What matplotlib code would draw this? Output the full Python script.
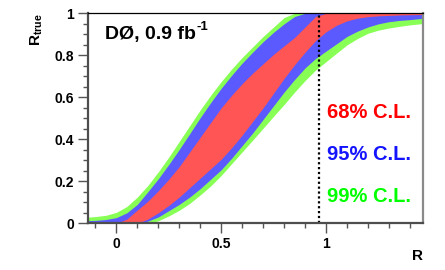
import matplotlib
matplotlib.use("Agg")
import matplotlib.pyplot as plt
from matplotlib.ticker import MultipleLocator, FixedLocator, FixedFormatter

plt.rcParams['font.family'] = ['Liberation Sans', 'DejaVu Sans']
plt.rcParams['mathtext.fontset'] = 'custom'
plt.rcParams['mathtext.rm'] = 'Liberation Sans'
plt.rcParams['mathtext.bf'] = 'Liberation Sans:bold'

# ---- data ----
R = [-0.15, -0.10, -0.05, 0.00, 0.05, 0.10, 0.15, 0.20, 0.25, 0.30, 0.35, 0.40,
     0.45, 0.50, 0.55, 0.60, 0.65, 0.70, 0.75, 0.80, 0.85, 0.90, 0.95, 1.00,
     1.05, 1.10, 1.15, 1.20, 1.25, 1.30, 1.35, 1.40, 1.45, 1.50]

green_upper = [0.028, 0.032, 0.038, 0.052, 0.080, 0.125, 0.180, 0.245, 0.315, 0.390, 0.465, 0.540,
               0.610, 0.675, 0.735, 0.790, 0.840, 0.890, 0.935, 0.980, 1.0, 1.0, 1.0, 1.0,
               1.0, 1.0, 1.0, 1.0, 1.0, 1.0, 1.0, 1.0, 1.0, 1.0]
blue_upper = [0.012, 0.014, 0.018, 0.027, 0.050, 0.090, 0.150, 0.212, 0.280, 0.352, 0.427, 0.503,
              0.575, 0.643, 0.705, 0.763, 0.815, 0.865, 0.910, 0.950, 0.985, 1.0, 1.0, 1.0,
              1.0, 1.0, 1.0, 1.0, 1.0, 1.0, 1.0, 1.0, 1.0, 1.0]
red_upper = [0.0, 0.0, 0.0, 0.0, 0.020, 0.063, 0.105, 0.155, 0.210, 0.270, 0.340, 0.410,
             0.480, 0.550, 0.610, 0.665, 0.715, 0.760, 0.805, 0.845, 0.885, 0.935, 0.985, 1.0,
             1.0, 1.0, 1.0, 1.0, 1.0, 1.0, 1.0, 1.0, 1.0, 1.0]
red_lower = [0.0, 0.0, 0.0, 0.0, 0.0, 0.0, 0.020, 0.050, 0.085, 0.125, 0.170, 0.215,
             0.260, 0.305, 0.360, 0.420, 0.485, 0.550, 0.620, 0.690, 0.755, 0.815, 0.870, 0.912,
             0.943, 0.964, 0.977, 0.984, 0.988, 0.990, 0.992, 0.993, 0.994, 0.995]
blue_lower = [0.0, 0.0, 0.0, 0.0, 0.0, 0.0, 0.010, 0.030, 0.060, 0.090, 0.125, 0.165,
              0.210, 0.255, 0.310, 0.370, 0.430, 0.495, 0.560, 0.625, 0.685, 0.740, 0.785, 0.820,
              0.855, 0.890, 0.915, 0.935, 0.950, 0.960, 0.966, 0.970, 0.975, 0.977]
green_lower = [0.0, 0.0, 0.0, 0.0, 0.0, 0.0, 0.0, 0.012, 0.035, 0.062, 0.095, 0.135,
               0.178, 0.228, 0.284, 0.340, 0.396, 0.453, 0.510, 0.566, 0.625, 0.680, 0.730, 0.770,
               0.810, 0.850, 0.880, 0.905, 0.920, 0.930, 0.938, 0.945, 0.950, 0.955]

R_measured = 0.968
labels = ["68% C.L.", "95% C.L.", "99% C.L."]
label_y = [0.50, 0.30, 0.10]

x_ticks = [0, 0.5, 1]
x_ticklabels = ["0", "0.5", "1"]
y_ticks = [0, 0.2, 0.4, 0.6, 0.8, 1.0]
y_ticklabels = ["0", "0.2", "0.4", "0.6", "0.8", "1"]

# ---- styles ----
c_green = '#88ff55'
c_blue = '#5a5aff'
c_red = '#ff5555'
txt_colors = ['#ff0000', '#1414ff', '#00ff00']

fig = plt.figure(figsize=(4.45, 2.70), dpi=100)
ax = fig.add_axes([88/445, 1-223.3/270, (423-88)/445, (223.3-13.3)/270])

ax.fill_between(R, green_lower, green_upper, color=c_green, lw=0)
ax.fill_between(R, blue_lower, blue_upper, color=c_blue, lw=0)
ax.fill_between(R, red_lower, red_upper, color=c_red, lw=0)
ax.plot([R_measured, R_measured], [0, 1], color='black', ls=(0, (1, 1.2)), lw=1.6)

ax.set_xlim(-0.135, 1.462)
ax.set_ylim(0, 1)

ax.xaxis.set_major_locator(FixedLocator(x_ticks))
ax.xaxis.set_major_formatter(FixedFormatter(x_ticklabels))
ax.xaxis.set_minor_locator(MultipleLocator(0.1))
ax.yaxis.set_major_locator(FixedLocator(y_ticks))
ax.yaxis.set_major_formatter(FixedFormatter(y_ticklabels))
ax.yaxis.set_minor_locator(MultipleLocator(0.05))

ax.tick_params(which='major', direction='out', length=7, width=1.0, color='#555555',
               labelsize=10, pad=3)
ax.tick_params(which='minor', direction='out', length=3.5, width=1.0, color='#555555')
for lab in ax.get_xticklabels() + ax.get_yticklabels():
    lab.set_fontweight('bold')

ax.spines['left'].set_color('#4d4d4d')
ax.spines['left'].set_linewidth(1.6)
ax.spines['bottom'].set_color('#4d4d4d')
ax.spines['bottom'].set_linewidth(1.6)
ax.spines['top'].set_color('black')
ax.spines['top'].set_linewidth(0.9)
ax.spines['right'].set_color('#8a8a8a')
ax.spines['right'].set_linewidth(1.6)
for s in ax.spines.values():
    s.set_zorder(5)

t = ax.text(-0.054, 0.88, "DØ, 0.9 fb", fontsize=14, fontweight='bold',
            ha='left', va='baseline')
fig.canvas.draw()
bb = t.get_window_extent(fig.canvas.get_renderer())
base_disp = ax.transData.transform((-0.054, 0.88))
sup_x, sup_y = fig.transFigure.inverted().transform((bb.x1 + 1.0, base_disp[1] + 8.0))
fig.text(sup_x, sup_y, "-1", fontsize=9.5, fontweight='bold', ha='left', va='baseline')

for lab, yy, col in zip(labels, label_y, txt_colors):
    ax.text(1.006, yy, lab, color=col, fontsize=14.5, fontweight='bold',
            ha='left', va='baseline')

fig.text(37/445, 1-13/270, r"$\mathbf{R}_{\mathbf{true}}$", rotation=90, ha='center',
         va='top', fontsize=11)
fig.text(423/445, 1-249/270, "R", ha='right', va='top', fontsize=11, fontweight='bold')

fig.savefig("out.png", dpi=100)
